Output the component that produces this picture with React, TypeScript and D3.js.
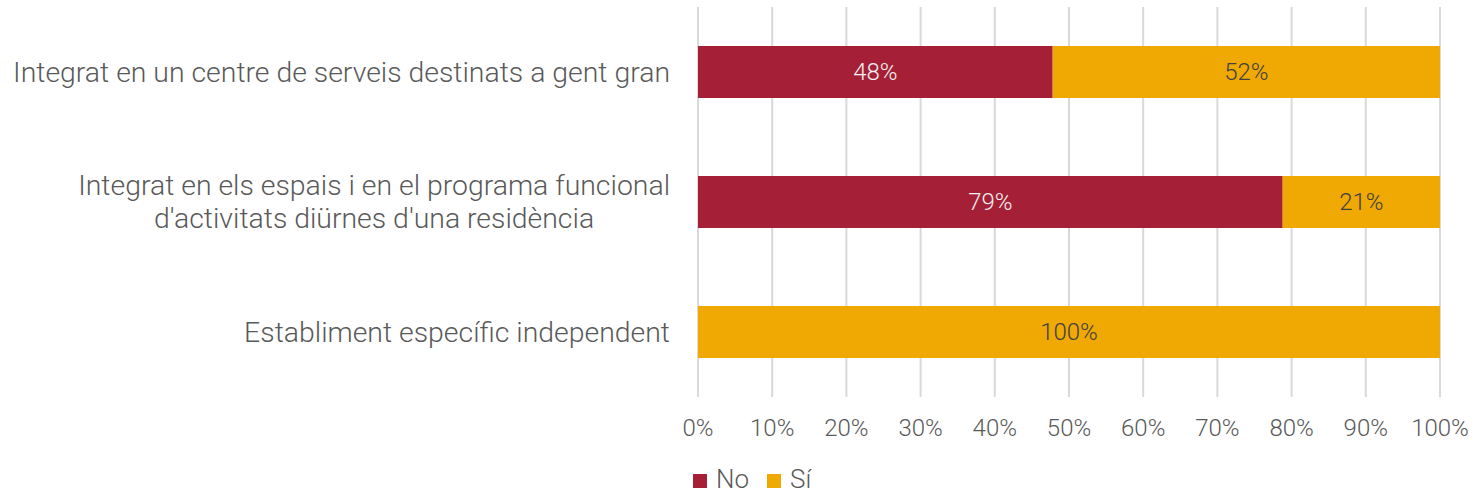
import React, { useEffect, useRef } from "react";
import * as d3 from "d3";

const categories = [
  "Integrat en un centre de serveis destinats a gent gran",
  "Integrat en els espais i en el programa funcional\nd'activitats diürnes d'una residència",
  "Establiment específic independent",
];
const noValues = [47.8, 78.8, 0];
const siValues = [52.2, 21.2, 100];
const seriesNames = ["No", "Sí"];
const xTicks = [0, 10, 20, 30, 40, 50, 60, 70, 80, 90, 100];

const COLORS = ["#A51F36", "#F0A902"];
const LABEL_COLORS = ["#F2F2F2", "#404040"];
const FONT = "Roboto, 'Noto Sans', sans-serif";

export default function App() {
  const ref = useRef<SVGSVGElement>(null);

  useEffect(() => {
    const w = 1475;
    const h = 494;
    const svg = d3.select(ref.current);
    svg.selectAll("*").remove();

    const x = d3.scaleLinear().domain([0, 100]).range([698, 1440]);
    const y = d3
      .scaleBand()
      .domain(categories)
      .range([7, 397])
      .paddingInner(0.6)
      .paddingOuter(0.3);

    // gridlines
    svg
      .append("g")
      .selectAll("line")
      .data(xTicks)
      .join("line")
      .attr("x1", (d) => x(d))
      .attr("x2", (d) => x(d))
      .attr("y1", 7)
      .attr("y2", 397)
      .attr("stroke", "#d9d9d9")
      .attr("stroke-width", 2);

    // stacked bars
    const rows = categories.map((c, i) => ({ cat: c, values: [noValues[i], siValues[i]] }));
    rows.forEach((r) => {
      let acc = 0;
      r.values.forEach((v, s) => {
        const x0 = acc;
        acc += v;
        if (v <= 0) return;
        svg
          .append("rect")
          .attr("x", x(x0))
          .attr("y", y(r.cat)!)
          .attr("width", x(acc) - x(x0))
          .attr("height", y.bandwidth())
          .attr("fill", COLORS[s]);
        svg
          .append("text")
          .attr("x", (x(x0) + x(acc)) / 2)
          .attr("y", y(r.cat)! + y.bandwidth() / 2)
          .attr("dy", "0.35em")
          .attr("text-anchor", "middle")
          .attr("font-family", FONT)
          .attr("font-weight", 300)
          .attr("font-size", 24)
          .attr("fill", LABEL_COLORS[s])
          .text(Math.round(v) + "%");
      });
    });

    // category labels, centred block, right-aligned to the axis
    categories.forEach((c) => {
      const lines = c.split("\n");
      const t = svg
        .append("text")
        .attr("font-family", FONT)
        .attr("font-weight", 300)
        .attr("font-size", 28.4)
        .attr("fill", "#595959")
        .attr("text-anchor", "middle");
      const cy = y(c)! + y.bandwidth() / 2;
      const lh = 33;
      lines.forEach((l, i) => {
        t.append("tspan")
          .attr("x", 0)
          .attr("y", cy + (i - (lines.length - 1) / 2) * lh)
          .attr("dy", "0.35em")
          .text(l);
      });
      const bb = (t.node() as SVGTextElement).getBBox();
      t.attr("transform", `translate(${670 - bb.width / 2},0)`);
    });

    // x axis labels
    svg
      .append("g")
      .selectAll("text")
      .data(xTicks)
      .join("text")
      .attr("x", (d) => x(d))
      .attr("y", 428)
      .attr("dy", "0.35em")
      .attr("text-anchor", "middle")
      .attr("font-family", FONT)
      .attr("font-weight", 300)
      .attr("font-size", 24)
      .attr("fill", "#595959")
      .text((d) => d + "%");

    // legend
    const lg = svg.append("g").attr("transform", "translate(693,480)");
    const offsets = [0, 74];
    seriesNames.forEach((n, i) => {
      lg.append("rect")
        .attr("x", offsets[i])
        .attr("y", -6)
        .attr("width", 14)
        .attr("height", 14)
        .attr("fill", COLORS[i]);
      lg.append("text")
        .attr("x", offsets[i] + 23)
        .attr("y", 0)
        .attr("dy", "0.3em")
        .attr("font-family", FONT)
        .attr("font-weight", 300)
        .attr("font-size", 26)
        .attr("fill", "#595959")
        .text(n);
    });

    svg.attr("width", w).attr("height", h);
  }, []);

  return (
    <div style={{ position: "absolute", left: 0, top: 0 }}>
      <svg ref={ref} width={1475} height={494} style={{ display: "block" }} />
    </div>
  );
}
